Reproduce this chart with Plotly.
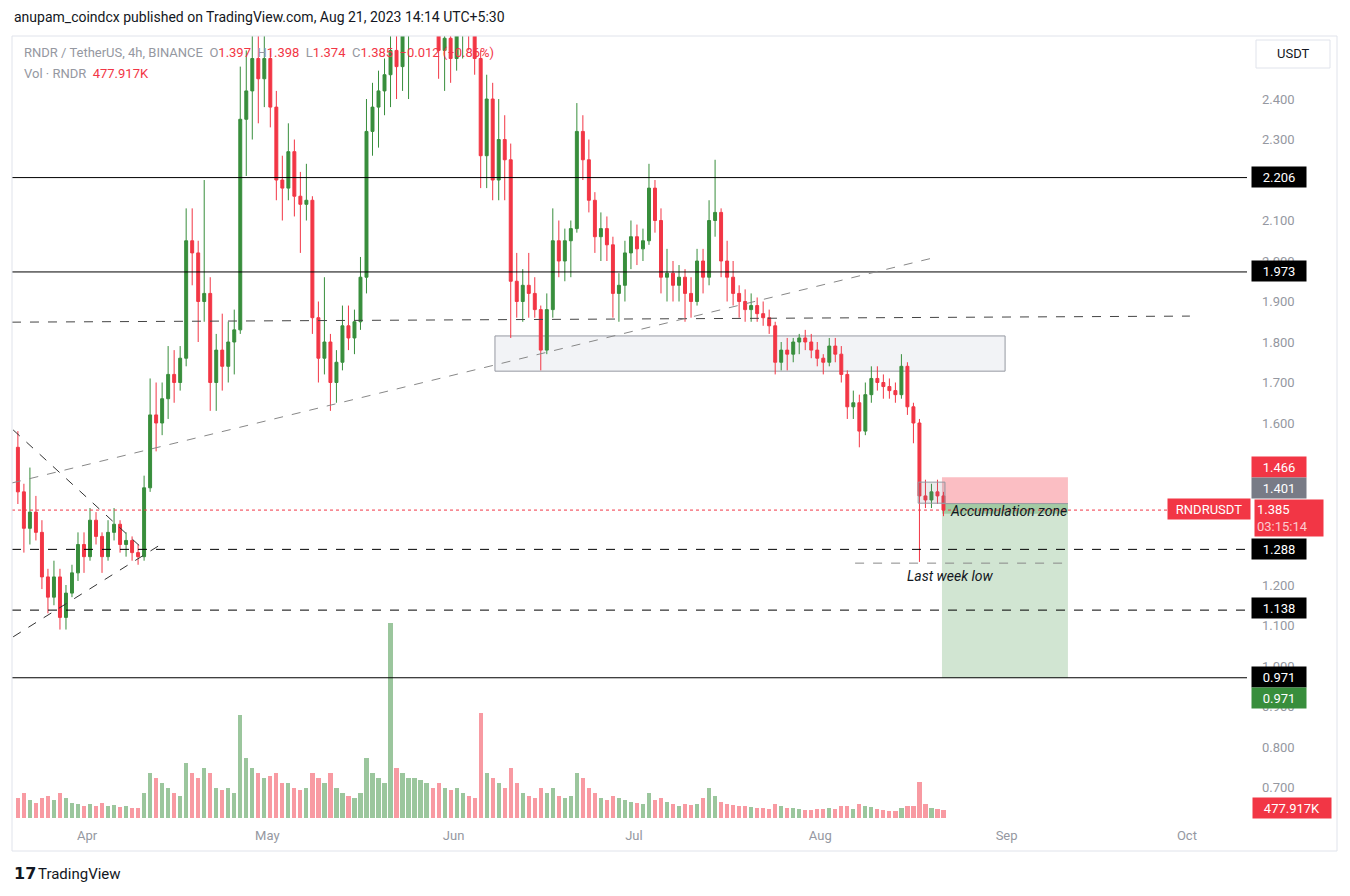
import pandas as pd
import plotly.graph_objects as go

# daily candles, Mar 20 -> Aug 21 2023
dates = pd.date_range("2023-03-20 12:00", periods=155, freq="D")

opens = [
    1.54, 1.43, 1.34, 1.38, 1.33, 1.22, 1.17, 1.22, 1.12, 1.18, 1.23, 1.30,
    1.27, 1.36, 1.32, 1.27, 1.33, 1.35, 1.30, 1.31, 1.28, 1.27, 1.44, 1.62, 1.60, 1.66,
    1.72, 1.70, 1.76, 2.05, 2.02, 1.90, 1.92, 1.70, 1.78, 1.74, 1.80, 1.83, 2.35, 2.42,
    2.50, 2.45,
    2.50, 2.38, 2.20, 2.18, 2.27, 2.16, 2.14, 2.15, 1.86, 1.76, 1.80, 1.70, 1.75, 1.84,
    1.81, 1.85, 1.96, 2.32, 2.38, 2.42, 2.46, 2.52, 2.48, 2.57, 2.57, 2.64, 2.70, 2.72,
    2.66, 2.52, 2.55,
    2.50, 2.56, 2.58, 2.57, 2.50, 2.26, 2.40, 2.20, 2.30, 2.25, 1.95, 1.90, 1.94, 1.92,
    1.88, 1.78, 1.88, 2.05, 2.00, 2.05, 2.08, 2.32, 2.25, 2.15, 2.06, 2.08, 2.04, 1.92,
    1.94, 2.02,
    2.06, 2.03, 2.05, 2.18, 2.10, 1.96, 1.97, 1.94, 1.96, 1.92, 1.90, 2.00, 1.96, 2.10,
    2.12, 2.00, 1.96, 1.92, 1.90, 1.88, 1.89, 1.87, 1.86, 1.84, 1.75, 1.78, 1.77, 1.80,
    1.81, 1.80, 1.78,
    1.76, 1.75, 1.79, 1.77, 1.72, 1.64, 1.65, 1.58, 1.67, 1.71, 1.70, 1.69, 1.68, 1.67,
    1.74, 1.64, 1.60, 1.42, 1.41, 1.43, 1.42,
]
highs = [
    1.58, 1.45, 1.49, 1.42, 1.36, 1.24, 1.26, 1.24, 1.20, 1.25, 1.33, 1.33,
    1.39, 1.38, 1.33, 1.36, 1.39, 1.36, 1.33, 1.32, 1.30, 1.47, 1.71, 1.70, 1.70, 1.79,
    1.78, 1.79, 2.13, 2.13, 2.05, 2.20, 1.96, 1.82, 1.87, 1.85, 1.88, 2.48, 2.52, 2.62,
    2.58, 2.62,
    2.52, 2.42, 2.26, 2.34, 2.30, 2.22, 2.24, 2.16, 1.90, 1.96, 1.82, 1.78, 1.89, 1.89,
    1.88, 2.01, 2.40, 2.44, 2.47, 2.50, 2.62, 2.62, 2.62, 2.60, 2.70, 2.75, 2.80, 2.78,
    2.70, 2.62, 2.62,
    2.62, 2.64, 2.63, 2.60, 2.52, 2.46, 2.44, 2.40, 2.36, 2.29, 2.02, 1.98, 2.02, 1.96,
    1.89, 1.92, 2.13, 2.10, 2.08, 2.10, 2.39, 2.36, 2.30, 2.17, 2.12, 2.11, 2.06, 1.97,
    2.05, 2.10,
    2.09, 2.08, 2.24, 2.20, 2.13, 2.03, 2.00, 1.99, 1.98, 1.96, 2.03, 2.03, 2.15, 2.25,
    2.13, 2.05, 2.00, 1.94, 1.93, 1.92, 1.91, 1.90, 1.88, 1.85, 1.80, 1.81, 1.81, 1.82,
    1.83, 1.82, 1.80,
    1.77, 1.81, 1.81, 1.79, 1.73, 1.68, 1.67, 1.70, 1.74, 1.74, 1.72, 1.71, 1.70, 1.77,
    1.75, 1.65, 1.61, 1.46, 1.45, 1.46, 1.43,
]
lows = [
    1.40, 1.28, 1.30, 1.31, 1.19, 1.13, 1.15, 1.09, 1.09, 1.17, 1.21, 1.23,
    1.26, 1.30, 1.23, 1.26, 1.31, 1.28, 1.27, 1.26, 1.25, 1.26, 1.43, 1.53, 1.57, 1.61,
    1.65, 1.68, 1.74, 1.94, 1.80, 1.85, 1.63, 1.63, 1.68, 1.70, 1.72, 1.82, 2.21, 2.30,
    2.34, 2.38,
    2.33, 2.15, 2.10, 2.15, 2.11, 2.02, 2.10, 1.82, 1.70, 1.72, 1.63, 1.65, 1.73, 1.78,
    1.77, 1.83, 1.92, 2.26, 2.28, 2.36, 2.38, 2.40, 2.42, 2.40, 2.57, 2.60, 2.62, 2.60,
    2.45, 2.42, 2.44,
    2.47, 2.50, 2.52, 2.46, 2.18, 2.18, 2.15, 2.15, 2.15, 1.81, 1.86, 1.85, 1.86, 1.86,
    1.73, 1.77, 1.86, 1.96, 1.95, 1.96, 2.07, 2.20, 2.12, 2.02, 2.00, 2.00, 1.86, 1.85,
    1.90, 1.98,
    1.99, 2.00, 2.04, 2.07, 1.92, 1.90, 1.90, 1.90, 1.85, 1.86, 1.89, 1.92, 1.94, 2.06,
    1.96, 1.90, 1.89, 1.86, 1.85, 1.85, 1.85, 1.84, 1.82, 1.72, 1.73, 1.73, 1.75, 1.77,
    1.78, 1.76, 1.74,
    1.72, 1.74, 1.75, 1.70, 1.61, 1.61, 1.54, 1.57, 1.65, 1.68, 1.66, 1.66, 1.65, 1.66,
    1.62, 1.55, 1.257, 1.39, 1.39, 1.40, 1.37,
]
closes = [
    1.43, 1.34, 1.38, 1.33, 1.22, 1.17, 1.22, 1.12, 1.18, 1.23, 1.30, 1.27,
    1.36, 1.32, 1.27, 1.33, 1.35, 1.30, 1.31, 1.28, 1.27, 1.44, 1.62, 1.60, 1.66, 1.72,
    1.70, 1.76, 2.05, 2.02, 1.90, 1.92, 1.70, 1.78, 1.74, 1.80, 1.83, 2.35, 2.42, 2.50,
    2.45, 2.50,
    2.38, 2.20, 2.18, 2.27, 2.16, 2.14, 2.15, 1.86, 1.76, 1.80, 1.70, 1.75, 1.84, 1.81,
    1.85, 1.96, 2.32, 2.38, 2.42, 2.46, 2.52, 2.48, 2.57, 2.57, 2.64, 2.70, 2.72, 2.66,
    2.52, 2.55, 2.50,
    2.56, 2.58, 2.57, 2.50, 2.26, 2.40, 2.20, 2.30, 2.25, 1.95, 1.90, 1.94, 1.92, 1.88,
    1.78, 1.88, 2.05, 2.00, 2.05, 2.08, 2.32, 2.25, 2.15, 2.06, 2.08, 2.04, 1.92, 1.94,
    2.02, 2.06,
    2.03, 2.05, 2.18, 2.10, 1.96, 1.97, 1.94, 1.96, 1.92, 1.90, 2.00, 1.96, 2.10, 2.12,
    2.00, 1.96, 1.92, 1.90, 1.88, 1.89, 1.87, 1.86, 1.84, 1.75, 1.78, 1.77, 1.80, 1.81,
    1.80, 1.78, 1.76,
    1.75, 1.79, 1.77, 1.72, 1.64, 1.65, 1.58, 1.67, 1.71, 1.70, 1.69, 1.68, 1.67, 1.74,
    1.64, 1.60, 1.42, 1.41, 1.43, 1.42, 1.385,
]
# volume, thousands of RNDR
volumes = [
    1200, 1500, 1080, 900, 1200, 1320, 1080, 1500, 1200, 900, 840, 720,
    840, 720, 900, 720, 780, 660, 720, 600, 600, 1500, 2700, 2400, 2100, 1800,
    1500, 1320, 3300, 2700, 2400, 3000, 2700, 1800, 1680, 1800, 1500, 6180, 3600, 3000,
    2700, 2400,
    2520, 2700, 2100, 2100, 1800, 1680, 1800, 2700, 2400, 2100, 2700, 1800, 1500, 1320,
    1200, 1500, 3600, 2700, 2400, 2100, 11700, 3000, 2700, 2400, 2400, 2280, 2100, 1800,
    2100, 1800, 1680,
    1800, 1500, 1320, 1200, 6300, 2700, 2400, 2100, 1800, 3000, 2100, 1500, 1320, 1200,
    1800, 1500, 1800, 1320, 1200, 1320, 2700, 2400, 1800, 1500, 1200, 1080, 1320, 1200,
    1080, 960,
    900, 840, 1500, 1080, 1200, 960, 840, 720, 840, 780, 840, 1200, 1800, 1320,
    960, 840, 780, 720, 720, 660, 600, 600, 540, 840, 720, 600, 600, 540,
    480, 480, 540,
    540, 600, 540, 720, 720, 540, 840, 720, 660, 540, 480, 420, 420, 600,
    720, 720, 2160, 840, 600, 540, 478,
]

# price scale ticks left visible (the others sit under the price-label boxes)
price_ticks = [2.4, 2.3, 2.1, 2.0, 1.9, 1.8, 1.7, 1.6, 1.2, 1.1, 1.0, 0.9, 0.8, 0.7]

levels_solid = [2.206, 1.973, 0.971]
levels_dashed = [1.288, 1.138]

GREEN = "#388e3c"
RED = "#f23645"

# the page puts the figure 8px in from the top-left corner,
# so the figure is drawn 16px smaller and every reference pixel is shifted by 8
W, H = 1334, 880
PL, PR, PT, PB = 12, 1247, 36, 818  # plot area in reference pixels


def px(X):
    return (X - PL) / (PR - PL)


def py(Y):
    return (PB - Y) / (PB - PT)


vol_colors = [
    "rgba(56,142,60,0.5)" if c >= o else "rgba(242,54,69,0.5)"
    for o, c in zip(opens, closes)
]

fig = go.Figure()
fig.add_trace(go.Bar(
    x=dates, y=volumes, marker_color=vol_colors, marker_line_width=0,
    width=0.7 * 86400000, yaxis="y2", hoverinfo="skip",
))
fig.add_trace(go.Candlestick(
    x=dates, open=opens, high=highs, low=lows, close=closes,
    increasing=dict(line=dict(color=GREEN, width=1), fillcolor=GREEN),
    decreasing=dict(line=dict(color=RED, width=1), fillcolor=RED),
    whiskerwidth=0,
))

shapes = []
for lv in levels_solid:
    shapes.append(dict(type="line", xref="paper", x0=0, x1=1, y0=lv, y1=lv,
                       line=dict(color="#000000", width=1)))
for lv in levels_dashed:
    shapes.append(dict(type="line", xref="paper", x0=0, x1=1, y0=lv, y1=lv,
                       line=dict(color="#000000", width=1, dash="dash")))

# current price dotted line
shapes.append(dict(type="line", xref="paper", x0=0, x1=1, y0=1.385, y1=1.385,
                   line=dict(color=RED, width=1, dash="dot")))

# grey range box
shapes.append(dict(type="rect", x0="2023-06-07 21:00", x1="2023-08-31 18:00",
                   y0=1.728, y1=1.815, layer="below",
                   fillcolor="#f2f3f6", line=dict(color="#9598a1", width=1)))

# long position tool
shapes.append(dict(type="rect", x0="2023-08-21 06:00", x1="2023-09-11 05:00",
                   y0=1.401, y1=1.466, layer="below",
                   fillcolor="rgba(242,54,69,0.32)", line=dict(width=0)))
shapes.append(dict(type="rect", x0="2023-08-21 06:00", x1="2023-09-11 05:00",
                   y0=0.971, y1=1.401, layer="below",
                   fillcolor="rgba(56,142,60,0.23)", line=dict(width=0)))
shapes.append(dict(type="rect", x0="2023-08-21 06:00", x1="2023-09-11 05:00",
                   y0=1.376, y1=1.401, layer="below",
                   fillcolor="rgba(56,142,60,0.3)", line=dict(width=0)))
shapes.append(dict(type="line", x0="2023-08-21 06:00", x1="2023-09-11 05:00",
                   y0=1.401, y1=1.401, line=dict(color="#9598a1", width=1)))

# accumulation box
shapes.append(dict(type="rect", x0="2023-08-17 07:00", x1="2023-08-21 18:00",
                   y0=1.402, y1=1.454,
                   fillcolor="rgba(120,123,134,0.15)", line=dict(color="#9598a1", width=1)))

# trend lines
shapes.append(dict(type="line", x0="2023-03-19 12:30", x1="2023-10-01 12:00",
                   y0=1.849, y1=1.864, line=dict(color="#444444", width=1, dash="dash")))
shapes.append(dict(type="line", x0="2023-03-19 12:30", x1="2023-08-19 14:00",
                   y0=1.452, y1=2.007, line=dict(color="#888888", width=1, dash="dash")))
shapes.append(dict(type="line", x0="2023-03-19 17:00", x1="2023-04-10 04:00",
                   y0=1.583, y1=1.291, line=dict(color="#333333", width=1, dash="dash")))
shapes.append(dict(type="line", x0="2023-03-19 17:00", x1="2023-04-13 04:00",
                   y0=1.072, y1=1.299, line=dict(color="#333333", width=1, dash="dash")))
shapes.append(dict(type="line", x0="2023-08-06 19:00", x1="2023-09-10 17:00",
                   y0=1.254, y1=1.254, line=dict(color="#888888", width=1, dash="dash")))

# frame and USDT button
shapes.append(dict(type="rect", xref="paper", yref="paper", x0=0, x1=px(1337),
                   y0=py(851), y1=py(36), line=dict(color="#e0e3eb", width=1)))
shapes.append(dict(type="rect", xref="paper", yref="paper", x0=px(1256), x1=px(1330),
                   y0=py(68), y1=py(40), fillcolor="#ffffff",
                   line=dict(color="#e0e3eb", width=1)))

annotations = []


def axis_label(text, Y, bg, X=1279, w=50, h=16, align="center"):
    annotations.append(dict(
        xref="paper", yref="paper", x=px(X), y=py(Y), text=text, showarrow=False,
        xanchor="center", yanchor="middle", bgcolor=bg, width=w, height=h,
        borderpad=2, align=align, font=dict(color="#ffffff", size=13),
    ))


axis_label("2.206", 177, "#000000")
axis_label("1.973", 271, "#000000")
axis_label("1.466", 467, RED)
axis_label("1.401", 488, "#787b86")
axis_label("1.385<br><span style='color:rgba(255,255,255,0.75)'>03:15:14</span>",
           518, RED, X=1289, w=64, h=32, align="left")
axis_label("RNDRUSDT", 509, RED, X=1209, w=78)
axis_label("1.288", 549, "#000000")
axis_label("1.138", 608, "#000000")
axis_label("0.971", 677, "#000000")
axis_label("0.971", 698, GREEN)
axis_label("477.917K", 808, RED, X=1292, w=74)

grey = "#9598a1"
annotations += [
    dict(xref="paper", yref="paper", x=0, y=py(17), xanchor="left", yanchor="middle",
         showarrow=False, font=dict(size=14, color="#131722"),
         text="anupam_coindcx published on TradingView.com, Aug 21, 2023 14:14 UTC+5:30"),
    dict(xref="paper", yref="paper", x=px(22), y=py(53), xanchor="left", yanchor="middle",
         showarrow=False, font=dict(size=13, color=grey),
         text=("RNDR / TetherUS, 4h, BINANCE  O<span style='color:%s'>1.397</span>  "
               "H<span style='color:%s'>1.398</span>  L<span style='color:%s'>1.374</span>  "
               "C<span style='color:%s'>1.385  −0.012 (−0.86%%)</span>") % (RED, RED, RED, RED)),
    dict(xref="paper", yref="paper", x=px(22), y=py(74), xanchor="left", yanchor="middle",
         showarrow=False, font=dict(size=13, color=grey),
         text="Vol · RNDR  <span style='color:%s'>477.917K</span>" % RED),
    dict(xref="paper", yref="paper", x=px(1293), y=py(54), xanchor="center", yanchor="middle",
         showarrow=False, font=dict(size=13, color="#131722"), text="USDT"),
    dict(x="2023-08-22 07:00", y=1.383, xanchor="left", yanchor="middle", showarrow=False,
         font=dict(size=14, color="#131722"), text="<i>Accumulation zone</i>"),
    dict(x="2023-08-15 02:00", y=1.222, xanchor="left", yanchor="middle", showarrow=False,
         font=dict(size=14, color="#131722"), text="<i>Last week low</i>"),
    dict(xref="paper", yref="paper", x=px(12), y=py(874), xanchor="left", yanchor="middle",
         showarrow=False, font=dict(size=16, color="#131722", family="DejaVu Sans"),
         text="<b>17</b>"),
    dict(xref="paper", yref="paper", x=px(36), y=py(874), xanchor="left", yanchor="middle",
         showarrow=False, font=dict(size=15, color="#131722"), text="TradingView"),
]

fig.update_layout(
    width=W, height=H, autosize=False,
    margin=dict(l=PL - 8, r=W - (PR - 8), t=PT - 8, b=H - (PB - 8)),
    paper_bgcolor="#ffffff", plot_bgcolor="#ffffff",
    font=dict(family="Roboto, DejaVu Sans, sans-serif", size=13, color="#131722"),
    showlegend=False,
    shapes=shapes, annotations=annotations,
    xaxis=dict(
        type="date", range=["2023-03-19 12:30", "2023-10-11 00:00"],
        rangeslider=dict(visible=False), showgrid=False, zeroline=False,
        tick0="2023-04-01", dtick="M1", tickformat="%b",
        tickfont=dict(color=grey, size=13), ticks="", ticklabelstandoff=8,
    ),
    yaxis=dict(
        side="right", range=[0.6247, 2.5556], showgrid=False, zeroline=False,
        tickmode="array", tickvals=price_ticks, tickformat=".3f",
        tickfont=dict(color=grey, size=13), ticks="", ticklabelstandoff=14,
    ),
    yaxis2=dict(overlaying="y", range=[0, max(volumes) * 4.0], visible=False),
    bargap=0,
)

fig.write_html("out.html")
